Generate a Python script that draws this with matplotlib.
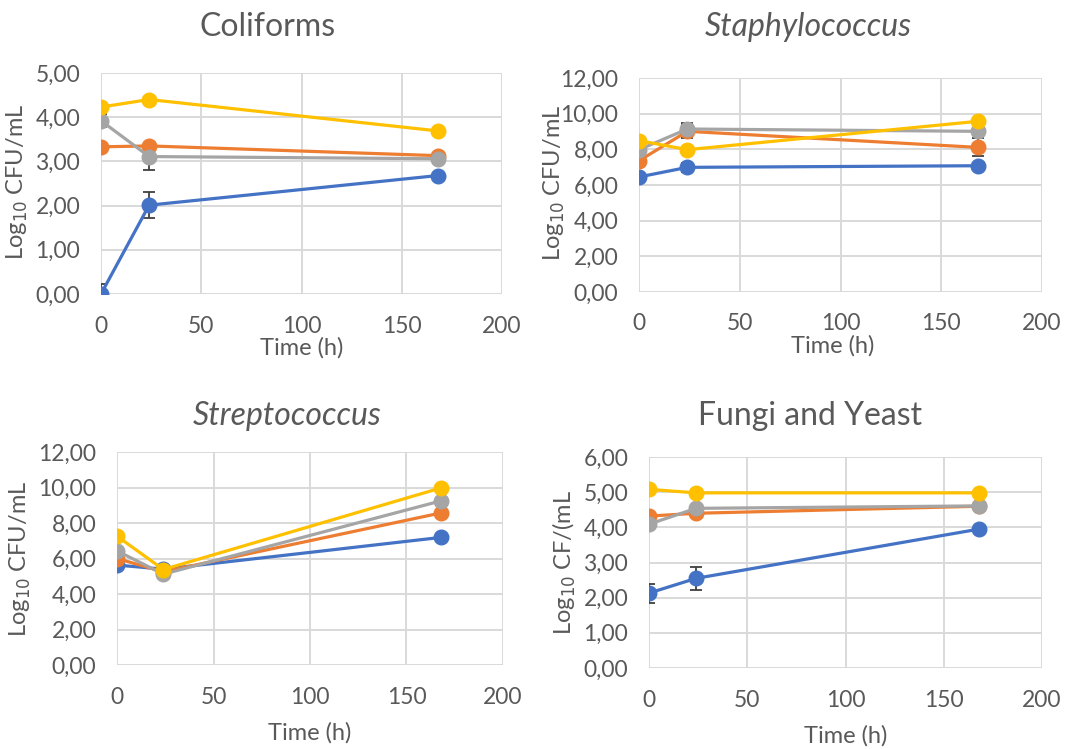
import matplotlib
matplotlib.use("Agg")
import matplotlib.pyplot as plt
from matplotlib.ticker import FuncFormatter

plt.rcParams['font.family'] = ['Lato', 'DejaVu Sans']

time_h = [0, 24, 168]
series_colors = {"blue": "#4472C4", "orange": "#ED7D31", "gray": "#A5A5A5", "yellow": "#FFC000"}

# Coliforms
col_blue = [0.00, 2.01, 2.68]
col_blue_err = [0.22, 0.30, 0.05]
col_orange = [3.33, 3.35, 3.13]
col_orange_err = [0.05, 0.05, 0.05]
col_gray = [3.92, 3.11, 3.06]
col_gray_err = [0.15, 0.30, 0.10]
col_yellow = [4.23, 4.40, 3.69]
col_yellow_err = [0.03, 0.03, 0.03]

# Staphylococcus
sta_blue = [6.45, 6.99, 7.08]
sta_blue_err = [0.20, 0.25, 0.10]
sta_orange = [7.36, 9.01, 8.11]
sta_orange_err = [0.10, 0.40, 0.50]
sta_gray = [7.98, 9.14, 9.01]
sta_gray_err = [0.10, 0.35, 0.15]
sta_yellow = [8.49, 7.98, 9.57]
sta_yellow_err = [0.05, 0.05, 0.05]

# Streptococcus
str_blue = [5.63, 5.40, 7.19]
str_orange = [6.00, 5.25, 8.57]
str_gray = [6.43, 5.12, 9.25]
str_yellow = [7.26, 5.38, 9.98]

# Fungi and Yeast
fun_blue = [2.13, 2.55, 3.95]
fun_blue_err = [0.27, 0.32, 0.05]
fun_orange = [4.32, 4.40, 4.60]
fun_orange_err = [0.05, 0.10, 0.05]
fun_gray = [4.09, 4.54, 4.61]
fun_gray_err = [0.10, 0.08, 0.05]
fun_yellow = [5.08, 4.98, 4.98]
fun_yellow_err = [0.03, 0.03, 0.03]

titles = ["Coliforms", "Staphylococcus", "Streptococcus", "Fungi and Yeast"]
title_styles = ["normal", "italic", "italic", "normal"]
ylabels = [r"Log$_{10}$ CFU/mL", r"Log$_{10}$ CFU/mL", r"Log$_{10}$ CFU/mL", r"Log$_{10}$ CF/(mL"]
xticks = [0, 50, 100, 150, 200]
yticks_list = [[0, 1, 2, 3, 4, 5], [0, 2, 4, 6, 8, 10, 12], [0, 2, 4, 6, 8, 10, 12], [0, 1, 2, 3, 4, 5, 6]]

panels = [
    [(col_blue, col_blue_err), (col_orange, col_orange_err), (col_gray, col_gray_err), (col_yellow, col_yellow_err)],
    [(sta_blue, sta_blue_err), (sta_orange, sta_orange_err), (sta_gray, sta_gray_err), (sta_yellow, sta_yellow_err)],
    [(str_blue, None), (str_orange, None), (str_gray, None), (str_yellow, None)],
    [(fun_blue, fun_blue_err), (fun_orange, fun_orange_err), (fun_gray, fun_gray_err), (fun_yellow, fun_yellow_err)],
]

W, H = 1067, 749
fig = plt.figure(figsize=(W / 100, H / 100), dpi=100)

# axes boxes in pixels: left, top, right, bottom
boxes = [(101, 73, 502, 294), (639, 78, 1042, 292), (117, 452, 503, 665), (649, 457, 1042, 668)]
title_pos = [(268, 27), (808, 27), (287, 416), (810, 416)]
ylab_pos = [(-0.177, 0.507), (-0.179, 0.51), (-0.218, 0.50), (-0.18, 0.50)]
xlab_pos = [(0.5, -0.195), (0.48, -0.20), (0.5, -0.268), (0.5, -0.27)]
xtick_pad = [16, 15, 16, 16]

txt_color = "#595959"
grid_color = "#D9D9D9"
colors = [series_colors["blue"], series_colors["orange"], series_colors["gray"], series_colors["yellow"]]

fmt = FuncFormatter(lambda v, p: f"{v:.2f}".replace(".", ","))

for i in range(4):
    l, t, r, b = boxes[i]
    ax = fig.add_axes([l / W, 1 - b / H, (r - l) / W, (b - t) / H])
    for (vals, err), c in zip(panels[i], colors):
        if err is not None:
            ax.errorbar(time_h, vals, yerr=err, fmt="none", ecolor="#404040",
                        elinewidth=1.3, capsize=4, capthick=1.3, zorder=2)
        ax.plot(time_h, vals, color=c, lw=2.3, marker="o", markersize=10.5, zorder=3)
    ax.set_xlim(0, 200)
    yt = yticks_list[i]
    ax.set_ylim(yt[0], yt[-1])
    ax.set_xticks(xticks)
    ax.set_yticks(yt)
    ax.yaxis.set_major_formatter(fmt)
    ax.grid(True, color=grid_color, lw=1.4)
    ax.set_axisbelow(True)
    for s in ax.spines.values():
        s.set_visible(False)
    ax.tick_params(axis="both", length=0, labelsize=16.5, labelcolor=txt_color)
    ax.tick_params(axis="x", pad=xtick_pad[i])
    ax.tick_params(axis="y", pad=15)
    ax.set_ylabel(ylabels[i], fontsize=17, color=txt_color)
    ax.yaxis.set_label_coords(*ylab_pos[i])
    ax.set_xlabel("Time (h)", fontsize=17, color=txt_color)
    ax.xaxis.set_label_coords(*xlab_pos[i])
    fig.text(title_pos[i][0] / W, 1 - title_pos[i][1] / H, titles[i], fontsize=23,
             color=txt_color, style=title_styles[i], ha="center", va="center")

fig.savefig("out.png", dpi=100, facecolor="white")
